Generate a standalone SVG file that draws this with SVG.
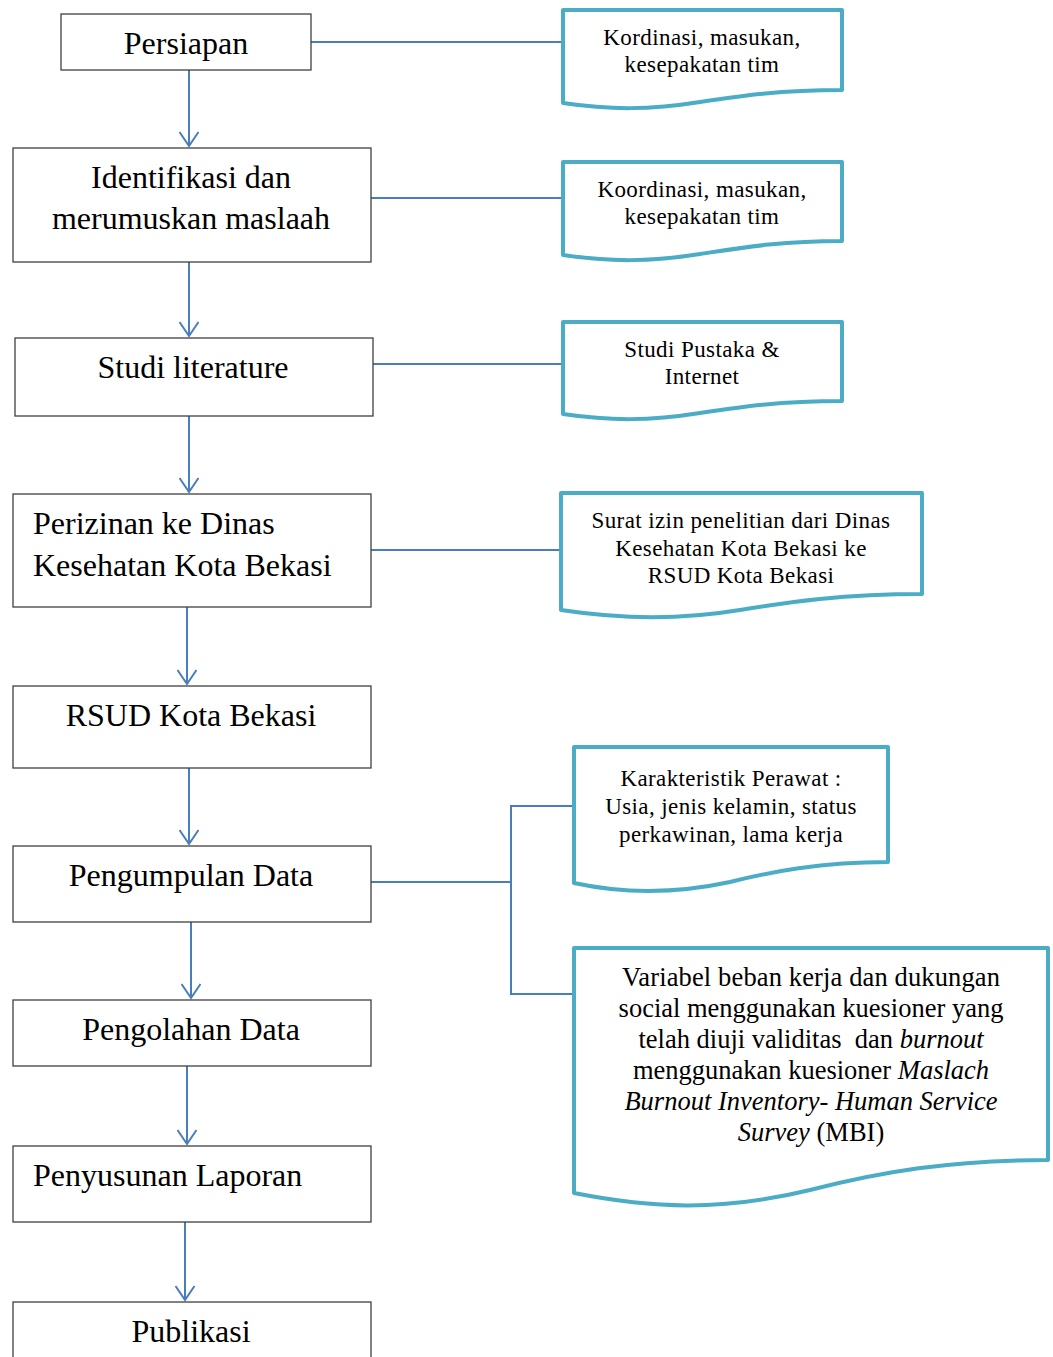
<svg xmlns="http://www.w3.org/2000/svg" width="1053" height="1357" viewBox="0 0 1053 1357">
<style>
.box{fill:#fff;stroke:#404040;stroke-width:1.3}
.doc{fill:#fff;stroke:#4BACC6;stroke-width:4;stroke-linejoin:round}
.lt{font-family:"Liberation Serif",serif;font-size:32px;fill:#000}
.dt{font-family:"Liberation Serif",serif;font-size:23px;letter-spacing:0.4px;fill:#000;text-anchor:middle}
.dt2{font-family:"Liberation Serif",serif;font-size:26.5px;fill:#000;text-anchor:middle}
.c{text-anchor:middle}
.con{fill:none;stroke:#4A7EBB;stroke-width:2}
</style>
<defs>
<marker id="arr" viewBox="0 0 20 20" refX="18" refY="10" markerWidth="20" markerHeight="20" markerUnits="userSpaceOnUse" orient="auto">
<path d="M4,0.5 L18,10 L4,19.5" fill="none" stroke="#4A7EBB" stroke-width="2"/>
</marker>
</defs>
<g id="connectors">
<line class="con" x1="189" y1="70" x2="189" y2="146" marker-end="url(#arr)"/>
<line class="con" x1="189" y1="262" x2="189" y2="336" marker-end="url(#arr)"/>
<line class="con" x1="189" y1="416" x2="189" y2="492" marker-end="url(#arr)"/>
<line class="con" x1="187" y1="607" x2="187" y2="684" marker-end="url(#arr)"/>
<line class="con" x1="189" y1="768" x2="189" y2="844" marker-end="url(#arr)"/>
<line class="con" x1="191" y1="922" x2="191" y2="998" marker-end="url(#arr)"/>
<line class="con" x1="187" y1="1066" x2="187" y2="1144" marker-end="url(#arr)"/>
<line class="con" x1="185" y1="1222" x2="185" y2="1300" marker-end="url(#arr)"/>
<line class="con" x1="311" y1="42" x2="563" y2="42"/>
<line class="con" x1="371" y1="198" x2="563" y2="198"/>
<line class="con" x1="373" y1="364" x2="563" y2="364"/>
<line class="con" x1="371" y1="550" x2="561" y2="550"/>
<line class="con" x1="371" y1="882" x2="511" y2="882"/>
<polyline class="con" points="574,806 511,806 511,994 574,994"/>
</g>
<g id="n-persiapan"><rect class="box" x="61" y="14" width="250" height="56"/><text class="lt c" x="186" y="54">Persiapan</text></g>
<g id="n-identifikasi"><rect class="box" x="13" y="148" width="358" height="114"/><text class="lt c" x="191" y="188">Identifikasi dan</text><text class="lt c" x="191" y="229">merumuskan maslaah</text></g>
<g id="n-studi"><rect class="box" x="15" y="338" width="358" height="78"/><text class="lt c" x="193" y="378">Studi literature</text></g>
<g id="n-perizinan"><rect class="box" x="13" y="494" width="358" height="113"/><text class="lt" x="33" y="534">Perizinan ke Dinas</text><text class="lt" x="33" y="576">Kesehatan Kota Bekasi</text></g>
<g id="n-rsud"><rect class="box" x="13" y="686" width="358" height="82"/><text class="lt c" x="191" y="726">RSUD Kota Bekasi</text></g>
<g id="n-pengumpulan"><rect class="box" x="13" y="846" width="358" height="76"/><text class="lt c" x="191" y="886">Pengumpulan Data</text></g>
<g id="n-pengolahan"><rect class="box" x="13" y="1000" width="358" height="66"/><text class="lt c" x="191" y="1040">Pengolahan Data</text></g>
<g id="n-penyusunan"><rect class="box" x="13" y="1146" width="358" height="76"/><text class="lt" x="33" y="1186">Penyusunan Laporan</text></g>
<g id="n-publikasi"><rect class="box" x="13" y="1302" width="358" height="70"/><text class="lt c" x="191" y="1342">Publikasi</text></g>

<g id="d-kordinasi"><path class="doc" d="M563,103 L563,10 L842,10 L842,90 C780,90 740,96 700,102 C650,110 610,110 563,103 Z"/><text class="dt" x="702" y="45">Kordinasi, masukan,</text><text class="dt" x="702" y="72">kesepakatan tim</text></g>
<g id="d-koordinasi"><path class="doc" d="M563,255 L563,162 L842,162 L842,241 C780,241 740,248 700,254 C650,262 610,262 563,255 Z"/><text class="dt" x="702" y="197">Koordinasi, masukan,</text><text class="dt" x="702" y="224">kesepakatan tim</text></g>
<g id="d-studi"><path class="doc" d="M563,414 L563,322 L842,322 L842,401 C780,401 740,407 700,413 C650,421 610,421 563,414 Z"/><text class="dt" x="702" y="357">Studi Pustaka &amp;</text><text class="dt" x="702" y="384">Internet</text></g>
<g id="d-surat"><path class="doc" d="M561,610 L561,493 L922,493 L922,594 C842,594 790,602 740,610 C680,620 620,619 561,610 Z"/><text class="dt" x="741" y="528">Surat izin penelitian dari Dinas</text><text class="dt" x="741" y="556">Kesehatan Kota Bekasi ke</text><text class="dt" x="741" y="583">RSUD Kota Bekasi</text></g>
<g id="d-karakteristik"><path class="doc" d="M574,883 L574,747 L888,747 L888,862 C820,862 770,872 730,882 C670,895 620,893 574,883 Z"/><text class="dt" x="731" y="786">Karakteristik Perawat :</text><text class="dt" x="731" y="814">Usia, jenis kelamin, status</text><text class="dt" x="731" y="842">perkawinan, lama kerja</text></g>
<g id="d-variabel"><path class="doc" d="M574,1193 L574,948 L1048,948 L1048,1160 C950,1160 880,1172 810,1190 C720,1212 650,1208 574,1193 Z"/>
<text class="dt2" x="811" y="986" textLength="378" lengthAdjust="spacing">Variabel beban kerja dan dukungan</text>
<text class="dt2" x="811" y="1017">social menggunakan kuesioner yang</text>
<text class="dt2" x="811" y="1048" xml:space="preserve">telah diuji validitas  dan <tspan font-style="italic">burnout</tspan></text>
<text class="dt2" x="811" y="1079">menggunakan kuesioner <tspan font-style="italic">Maslach</tspan></text>
<text class="dt2" x="811" y="1110" font-style="italic">Burnout Inventory- Human Service</text>
<text class="dt2" x="811" y="1141"><tspan font-style="italic">Survey</tspan> (MBI)</text>
</g>
</svg>
